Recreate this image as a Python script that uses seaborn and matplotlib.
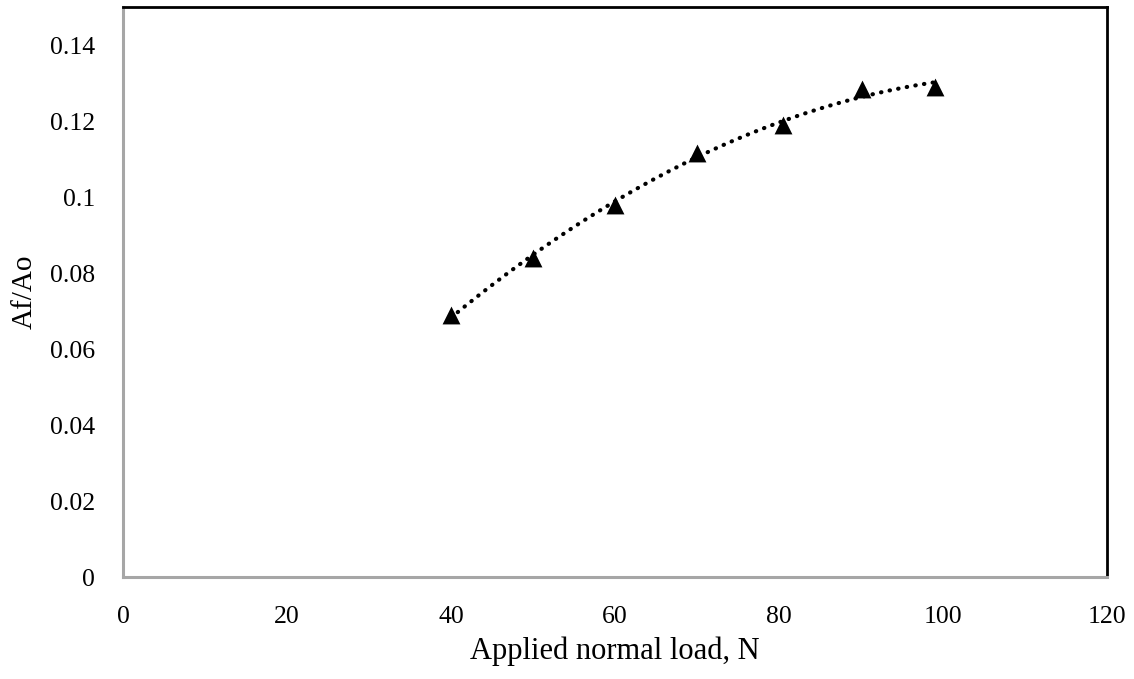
import numpy as np
import pandas as pd
import matplotlib
matplotlib.use("Agg")
import matplotlib.pyplot as plt
import seaborn as sns

# Measured data
load_n = [40, 50, 60, 70, 80.5, 90.2, 99]
area_ratio = [0.069, 0.084, 0.098, 0.1115, 0.119, 0.1285, 0.129]

x_ticks = [0, 20, 40, 60, 80, 100, 120]
y_ticks = [0, 0.02, 0.04, 0.06, 0.08, 0.1, 0.12, 0.14]
y_tick_labels = ["0", "0.02", "0.04", "0.06", "0.08", "0.1", "0.12", "0.14"]

sns.set_theme(style="white")
plt.rcParams["font.family"] = ["Liberation Serif", "DejaVu Serif"]

df = pd.DataFrame({"load": load_n, "ratio": area_ratio})

# Second-order polynomial trendline through the measurements
coef = np.polyfit(df["load"], df["ratio"], 2)
x_fit = np.linspace(df["load"].min(), df["load"].max(), 200)
trend = pd.DataFrame({"load": x_fit, "ratio": np.polyval(coef, x_fit)})

fig = plt.figure(figsize=(11.34, 6.79), dpi=100)
ax = fig.add_axes([0.1085, 0.150, 0.8675, 0.8397])

sns.lineplot(data=trend, x="load", y="ratio", ax=ax, color="black",
             linewidth=3.0, linestyle=(0, (0.1, 2.0)), zorder=2)
ax.lines[-1].set_dash_capstyle("round")
sns.scatterplot(data=df, x="load", y="ratio", ax=ax, marker="^", s=165,
                color="black", edgecolor="black", linewidth=0, zorder=3)

ax.set_xlim(0, 120)
ax.set_ylim(0, 0.15)
ax.set_xticks(x_ticks)
ax.set_yticks(y_ticks)
ax.set_yticklabels(y_tick_labels)
ax.tick_params(axis="both", length=0, labelsize=18.5, colors="black")
ax.tick_params(axis="y", pad=20)
ax.tick_params(axis="x", pad=21)

ax.set_xlabel("Applied normal load, N", fontsize=22, labelpad=6, color="black")
ax.set_ylabel("Af/Ao", fontsize=21, labelpad=9, color="black")

for side in ("left", "bottom"):
    ax.spines[side].set_color("#a6a6a6")
    ax.spines[side].set_linewidth(2.2)
for side in ("top", "right"):
    ax.spines[side].set_color("black")
    ax.spines[side].set_linewidth(2.0)
    ax.spines[side].set_visible(True)

ax.grid(False)
fig.savefig("out.png", dpi=100, facecolor="white")
